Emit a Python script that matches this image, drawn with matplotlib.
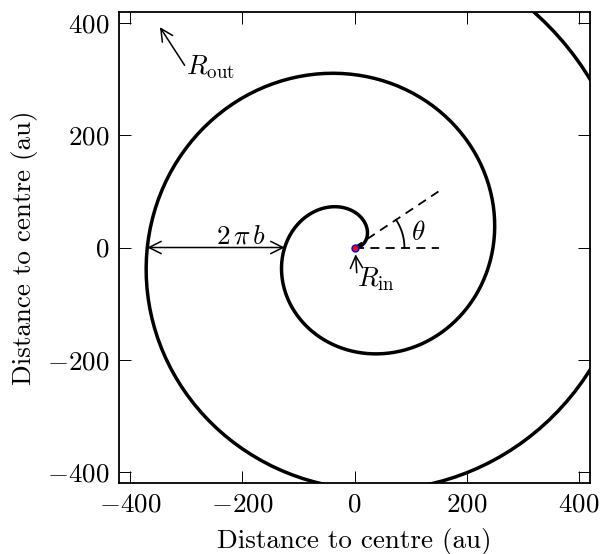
import numpy as np
import matplotlib.pyplot as plt

plt.rcParams['font.family'] = 'serif'
plt.rcParams['font.serif'] = ['cmr10']
plt.rcParams['mathtext.fontset'] = 'cm'
plt.rcParams['axes.formatter.use_mathtext'] = True
plt.rcParams['font.size'] = 19.5

# Archimedean spiral r = r_in + b*phi (au)
r_in = 2.0
b = 39.0
n_turns = 2.3
theta_deg = 33.7
lim = 420
ticks = [-400, -200, 0, 200, 400]

phi = np.linspace(0, 2*np.pi*n_turns, 300)
r = r_in + b*phi
x = r*np.cos(phi)
y = r*np.sin(phi)

fig = plt.figure(figsize=(6.01, 5.54), dpi=100)
ax = fig.add_axes([119/601, 1-483/554, (590-119)/601, (483-12)/554])

ax.plot(x, y, 'k-', lw=2.5)

# angle theta
th = np.radians(theta_deg)
ax.plot([0, 150], [0, 0], 'k--', lw=1.3, dashes=(5, 3.5))
ax.plot([0, 180*np.cos(th)], [0, 180*np.sin(th)], 'k--', lw=1.3, dashes=(5, 3.5))
t = np.linspace(0, th, 30)
ax.plot(89*np.cos(t), 89*np.sin(t), 'k-', lw=1.3)
ax.text(100, 25, r'$\theta$', ha='left', va='center')

ax.plot([0], [0], 'o', mfc='r', mec='b', ms=5, mew=1)

arrow = dict(arrowstyle='->', lw=1.1, color='k', mutation_scale=22,
             shrinkA=0, shrinkB=0)

# R_in
ax.annotate('', xy=(2, -12), xytext=(4, -45), arrowprops=arrow)
ax.text(5, -57, r'$R_{\rm in}$', ha='left', va='center')

# R_out
ax.annotate('', xy=(-347, 393), xytext=(-303, 325), arrowprops=arrow)
ax.text(-301, 322, r'$R_{\rm out}$', ha='left', va='center')

# 2 pi b
x_left = -(r_in + b*3*np.pi)
x_right = -(r_in + b*np.pi)
ax.annotate('', xy=(x_left, 0), xytext=(x_right, 0),
            arrowprops=dict(arrow, arrowstyle='<->'))
ax.text(-202, 20, r'$2\,\pi\,b$', ha='center', va='center')

ax.set_xlim(-lim, lim)
ax.set_ylim(-lim, lim)
ax.set_xticks(ticks)
ax.set_yticks(ticks)
ax.tick_params(direction='in', length=8.5, width=0.7, top=True, right=True,
               pad=7)
for s in ax.spines.values():
    s.set_linewidth(1.3)
ax.set_xlabel('Distance to centre (au)', labelpad=8)
ax.set_ylabel('Distance to centre (au)', labelpad=6.5)

fig.savefig('out.png', dpi=100)
